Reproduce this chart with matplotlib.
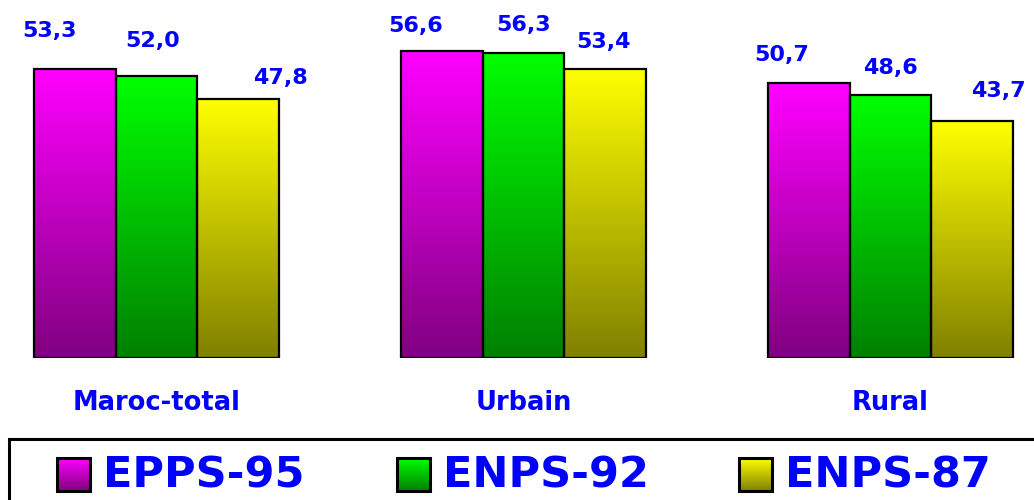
import numpy as np
import matplotlib
matplotlib.use("Agg")
import matplotlib.pyplot as plt
from matplotlib.colors import LinearSegmentedColormap
from matplotlib.patches import Rectangle

categories = ["Maroc-total", "Urbain", "Rural"]
series_names = ["EPPS-95", "ENPS-92", "ENPS-87"]
values = {
    "EPPS-95": [53.3, 56.6, 50.7],
    "ENPS-92": [52.0, 56.3, 48.6],
    "ENPS-87": [47.8, 53.4, 43.7],
}
top_colors = ["#FF00FF", "#00FF00", "#FFFF00"]
bottom_colors = ["#800080", "#008000", "#808000"]

# label placement (pixels, relative to bar top centre), per series per category
label_dx = [[-26, -26, -27], [-4, 0, 0], [42, -1, 26]]
label_dy = [[38, 25, 28], [35, 28, 27], [21, 27, 30]]

W, H = 1034, 500
fig = plt.figure(figsize=(W / 100, H / 100), dpi=100)
FONT = "DejaVu Sans"
BLUE = "#0000FF"

base_px = 358
ax = fig.add_axes([0, (H - base_px) / H, 1, base_px / H])
gs = 367.0
x_left = -156.5 / gs
x_right = (W - 156.5) / gs
px_per_unit = 5.42
ymax = base_px / px_per_unit
bw = 81.5 / gs

grad = np.linspace(0, 1, 256).reshape(-1, 1)

x = np.arange(len(categories))
for s, name in enumerate(series_names):
    cmap = LinearSegmentedColormap.from_list(name, [bottom_colors[s], top_colors[s]])
    xs = x + (s - 1) * bw
    bars = ax.bar(xs, values[name], width=bw, color="none", edgecolor="black",
                  linewidth=1.6, zorder=3)
    for i, (b, v, xc) in enumerate(zip(bars, values[name], xs)):
        im = ax.imshow(grad, extent=[xc - bw / 2, xc + bw / 2, 0, v], origin="lower",
                       aspect="auto", cmap=cmap, zorder=2)
        im.set_clip_path(b)
        ax.annotate(f"{v:.1f}".replace(".", ","), xy=(xc, v),
                    xytext=(label_dx[s][i] * 0.72, label_dy[s][i] * 0.72),
                    textcoords="offset points",
                    ha="center", va="center", color=BLUE, fontsize=16,
                    fontweight="bold", family=FONT)

for i, c in enumerate(categories):
    ax.annotate(c, xy=(i, 0), xytext=(0, -45 * 0.72), textcoords="offset points",
                ha="center", va="center", color=BLUE, fontsize=18.5,
                fontweight="bold", family=FONT)

ax.set_xlim(x_left, x_right)
ax.set_ylim(0, ymax)
ax.axis("off")

lax = fig.add_axes([0, 0, 1, 1], zorder=5)
lax.axis("off")
lax.patch.set_alpha(0)
lax.add_patch(Rectangle((9, 439), W + 20, 80, facecolor="white",
                        edgecolor="black", linewidth=2.2))
sq_x = [57, 397, 739]
for s, name in enumerate(series_names):
    cmap = LinearSegmentedColormap.from_list(name + "L", [bottom_colors[s], top_colors[s]])
    x0 = sq_x[s]
    lax.imshow(grad, extent=[x0, x0 + 33, 491, 458], origin="lower", aspect="auto",
               cmap=cmap, zorder=6)
    lax.add_patch(Rectangle((x0, 458), 33, 33, facecolor="none", edgecolor="black",
                            linewidth=2.2, zorder=7))
    lax.text(x0 + 46, 475, name, ha="left", va="center", color=BLUE, fontsize=31,
             fontweight="bold", family=FONT, zorder=7)
lax.set_xlim(0, W)
lax.set_ylim(H, 0)

fig.savefig("out.png", dpi=100)
